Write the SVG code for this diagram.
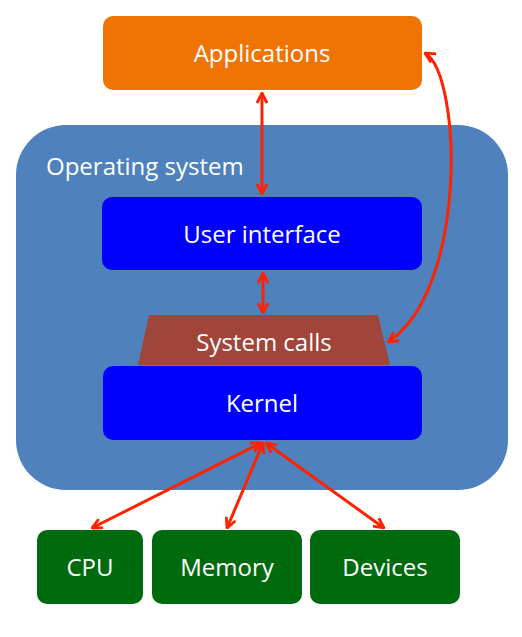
<svg xmlns="http://www.w3.org/2000/svg" width="522" height="637" viewBox="0 0 522 637">
<style>
text{font-family:"Open Sans","Liberation Sans",sans-serif;fill:#fff;font-size:24px;text-anchor:middle}
.c{fill:none;stroke:#ff2200;stroke-width:3}
</style>
<defs>
<marker id="a" viewBox="0 0 12 12" refX="11" refY="6" markerWidth="12" markerHeight="12" markerUnits="userSpaceOnUse" orient="auto-start-reverse">
<path d="M1 1 L11 6 L1 11" fill="none" stroke="#ff2200" stroke-width="2.8"/>
</marker>
</defs>
<rect width="522" height="637" fill="#fff"/>
<g id="os">
<rect x="16" y="125" width="492" height="365" rx="50" fill="#4f81bd"/>
<text x="46" y="175" style="text-anchor:start">Operating system</text>
</g>
<g id="applications">
<rect x="103" y="16" width="319" height="74" rx="10" fill="#ef7404"/>
<text x="262" y="62">Applications</text>
</g>
<g id="ui">
<rect x="102" y="197" width="320" height="73" rx="10" fill="#0000ff"/>
<text x="262" y="243">User interface</text>
</g>
<g id="syscalls">
<polygon points="149,315 378,315 390,365 138,365" fill="#a0453a"/>
<text x="264" y="351">System calls</text>
</g>
<g id="kernel">
<rect x="103" y="366" width="319" height="74" rx="10" fill="#0000ff"/>
<text x="262" y="412">Kernel</text>
</g>
<g id="cpu">
<rect x="37" y="530" width="106" height="74" rx="10" fill="#006a0e"/>
<text x="90" y="576">CPU</text>
</g>
<g id="memory">
<rect x="152" y="530" width="150" height="74" rx="10" fill="#006a0e"/>
<text x="227" y="576">Memory</text>
</g>
<g id="devices">
<rect x="310" y="530" width="150" height="74" rx="10" fill="#006a0e"/>
<text x="385" y="576">Devices</text>
</g>
<g id="connectors">
<line class="c" x1="262" y1="93" x2="262" y2="194" marker-start="url(#a)" marker-end="url(#a)"/>
<line class="c" x1="263" y1="273" x2="263" y2="313" marker-start="url(#a)" marker-end="url(#a)"/>
<path class="c" d="M425 53 C462 75 468 290 388 342" marker-start="url(#a)" marker-end="url(#a)"/>
<line class="c" x1="261" y1="443" x2="92" y2="528" marker-start="url(#a)" marker-end="url(#a)"/>
<line class="c" x1="263" y1="443" x2="227" y2="528" marker-start="url(#a)" marker-end="url(#a)"/>
<line class="c" x1="266" y1="443" x2="384" y2="528" marker-start="url(#a)" marker-end="url(#a)"/>
</g>
</svg>
